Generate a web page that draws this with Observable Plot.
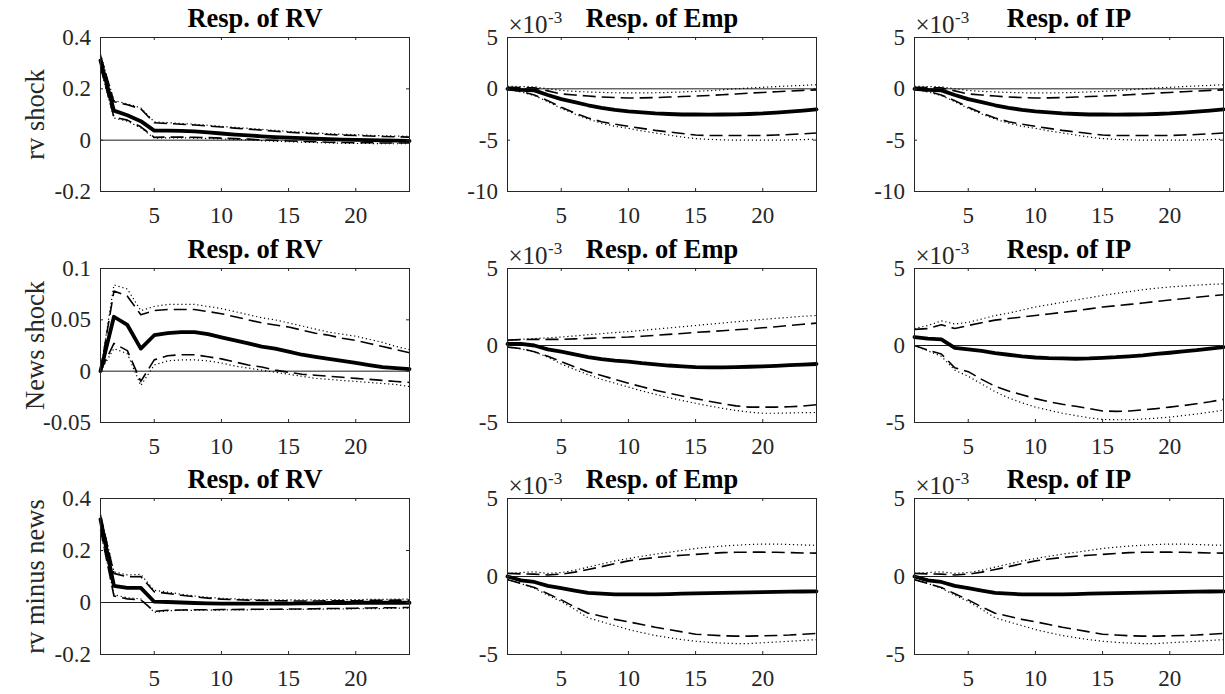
<!DOCTYPE html>
<html><head><meta charset="utf-8">
<script src="https://cdn.jsdelivr.net/npm/d3@7"></script>
<script src="https://cdn.jsdelivr.net/npm/@observablehq/plot@0.6"></script>
<style>
body{margin:0;background:#fff;}
#chart{position:relative;width:1225px;height:694px;overflow:hidden;background:#fff;}
#chart svg{position:absolute;overflow:visible;font-family:'Liberation Serif','Times New Roman',Times,serif;}
#chart svg text{font-family:'Liberation Serif','Times New Roman',Times,serif;}
</style></head><body><div id="chart"></div>
<script>
// ---- data ----
const horizon = [1,2,3,4,5,6,7,8,9,10,11,12,13,14,15,16,17,18,19,20,21,22,23,24];
const xTicks = [5,10,15,20];
const rowLabels = ["rv shock","News shock","rv minus news"];
const colTitles = ["Resp. of RV","Resp. of Emp","Resp. of IP"];
const yTicksRow1RV = [-0.2,0,0.2,0.4];
const yTicksRow2RV = [-0.05,0,0.05,0.1];
const yTicksRow3RV = [-0.2,0,0.2,0.4];
const yTicksRow1EmpIP = [-10,-5,0,5];   // ×10^-3
const yTicksRow23EmpIP = [-5,0,5];      // ×10^-3
const expBase = "×10", expPower = "-3";

// rv shock -> RV
const rvRV_med  = [0.31,0.115,0.097,0.074,0.037,0.037,0.036,0.034,0.030,0.026,0.022,0.019,0.015,0.012,0.010,0.008,0.006,0.004,0.002,0.001,0.000,-0.001,-0.002,-0.003];
const rvRV_up68 = [0.33,0.150,0.138,0.122,0.068,0.065,0.062,0.059,0.055,0.051,0.047,0.043,0.039,0.035,0.031,0.028,0.025,0.022,0.020,0.018,0.016,0.014,0.013,0.012];
const rvRV_up90 = [0.335,0.154,0.142,0.126,0.071,0.068,0.065,0.062,0.058,0.054,0.050,0.046,0.042,0.038,0.034,0.031,0.028,0.025,0.023,0.021,0.019,0.017,0.016,0.015];
const rvRV_lo68 = [0.285,0.090,0.078,0.052,0.011,0.012,0.012,0.011,0.010,0.008,0.006,0.004,0.001,-0.001,-0.003,-0.005,-0.006,-0.008,-0.009,-0.010,-0.010,-0.011,-0.011,-0.011];
const rvRV_lo90 = [0.28,0.086,0.074,0.048,0.008,0.009,0.009,0.008,0.007,0.005,0.003,0.001,-0.002,-0.004,-0.006,-0.008,-0.009,-0.011,-0.012,-0.013,-0.013,-0.014,-0.014,-0.014];

// rv shock -> Emp (×10^-3)
const rvEmp_med  = [0,-0.1,-0.15,-0.6,-1.0,-1.3,-1.6,-1.85,-2.05,-2.2,-2.3,-2.4,-2.45,-2.5,-2.5,-2.52,-2.5,-2.48,-2.45,-2.4,-2.32,-2.23,-2.12,-2.0];
const rvEmp_up68 = [0.15,0.12,0.1,-0.2,-0.5,-0.6,-0.7,-0.8,-0.85,-0.9,-0.88,-0.85,-0.8,-0.75,-0.7,-0.65,-0.58,-0.5,-0.42,-0.35,-0.28,-0.22,-0.15,-0.1];
const rvEmp_up90 = [0.25,0.22,0.2,0.0,-0.15,-0.25,-0.3,-0.35,-0.38,-0.4,-0.4,-0.38,-0.35,-0.3,-0.25,-0.18,-0.1,0.0,0.08,0.15,0.22,0.28,0.34,0.4];
const rvEmp_lo68 = [0,-0.25,-0.6,-1.15,-1.8,-2.35,-2.85,-3.2,-3.45,-3.65,-3.85,-4.05,-4.2,-4.35,-4.5,-4.55,-4.55,-4.55,-4.55,-4.55,-4.5,-4.45,-4.38,-4.3];
const rvEmp_lo90 = [-0.05,-0.3,-0.65,-1.25,-1.9,-2.45,-2.95,-3.35,-3.65,-3.85,-4.1,-4.3,-4.5,-4.7,-4.85,-4.92,-4.97,-5.0,-5.0,-5.0,-5.0,-4.98,-4.95,-4.9];

// rv shock -> IP (×10^-3)
const rvIP_med  = [0,-0.1,-0.15,-0.6,-1.0,-1.3,-1.6,-1.85,-2.05,-2.2,-2.3,-2.4,-2.45,-2.5,-2.5,-2.52,-2.5,-2.48,-2.45,-2.4,-2.32,-2.23,-2.12,-2.0];
const rvIP_up68 = [0.15,0.12,0.1,-0.2,-0.5,-0.6,-0.7,-0.8,-0.85,-0.9,-0.88,-0.85,-0.8,-0.75,-0.7,-0.65,-0.58,-0.5,-0.42,-0.35,-0.28,-0.22,-0.15,-0.1];
const rvIP_up90 = [0.25,0.22,0.2,0.0,-0.15,-0.25,-0.3,-0.35,-0.38,-0.4,-0.4,-0.38,-0.35,-0.3,-0.25,-0.18,-0.1,0.0,0.08,0.15,0.22,0.28,0.34,0.4];
const rvIP_lo68 = [0,-0.25,-0.6,-1.15,-1.8,-2.35,-2.85,-3.2,-3.45,-3.65,-3.85,-4.05,-4.2,-4.35,-4.5,-4.55,-4.55,-4.55,-4.55,-4.55,-4.5,-4.45,-4.38,-4.3];
const rvIP_lo90 = [-0.05,-0.3,-0.65,-1.25,-1.9,-2.45,-2.95,-3.35,-3.65,-3.85,-4.1,-4.3,-4.5,-4.7,-4.85,-4.92,-4.97,-5.0,-5.0,-5.0,-5.0,-4.98,-4.95,-4.9];

// News shock -> RV
const newsRV_med  = [0,0.053,0.045,0.022,0.035,0.037,0.038,0.038,0.036,0.033,0.030,0.027,0.024,0.022,0.019,0.016,0.014,0.012,0.010,0.008,0.006,0.004,0.003,0.002];
const newsRV_up68 = [0,0.078,0.073,0.055,0.059,0.060,0.060,0.060,0.058,0.056,0.053,0.050,0.047,0.045,0.043,0.040,0.037,0.035,0.032,0.030,0.027,0.024,0.021,0.018];
const newsRV_up90 = [0,0.084,0.080,0.059,0.063,0.065,0.065,0.065,0.063,0.061,0.058,0.055,0.052,0.050,0.047,0.044,0.041,0.038,0.036,0.034,0.031,0.028,0.024,0.021];
const newsRV_lo68 = [0,0.027,0.020,-0.010,0.011,0.015,0.016,0.016,0.014,0.012,0.009,0.006,0.004,0.001,-0.001,-0.003,-0.004,-0.005,-0.006,-0.007,-0.008,-0.009,-0.010,-0.011];
const newsRV_lo90 = [0,0.022,0.017,-0.014,0.006,0.010,0.011,0.011,0.010,0.008,0.005,0.003,0.001,-0.001,-0.003,-0.005,-0.007,-0.008,-0.009,-0.010,-0.011,-0.012,-0.013,-0.015];

// News shock -> Emp (×10^-3)
const newsEmp_med  = [0.1,0.1,0.0,-0.25,-0.4,-0.58,-0.75,-0.88,-0.98,-1.05,-1.15,-1.22,-1.3,-1.35,-1.4,-1.42,-1.42,-1.4,-1.38,-1.35,-1.32,-1.28,-1.24,-1.2];
const newsEmp_up68 = [0.35,0.38,0.4,0.4,0.4,0.43,0.46,0.5,0.52,0.55,0.6,0.66,0.72,0.78,0.85,0.9,0.96,1.02,1.08,1.15,1.22,1.3,1.38,1.45];
const newsEmp_up90 = [0.3,0.4,0.45,0.5,0.55,0.62,0.7,0.77,0.84,0.9,0.98,1.06,1.14,1.22,1.3,1.38,1.46,1.54,1.62,1.7,1.76,1.83,1.9,1.95];
const newsEmp_lo68 = [-0.1,-0.2,-0.4,-0.7,-1.05,-1.38,-1.7,-1.95,-2.2,-2.45,-2.68,-2.9,-3.1,-3.28,-3.45,-3.62,-3.78,-3.92,-4.0,-4.0,-4.0,-3.98,-3.93,-3.85];
const newsEmp_lo90 = [-0.1,-0.22,-0.42,-0.75,-1.2,-1.55,-1.9,-2.2,-2.45,-2.7,-2.95,-3.17,-3.38,-3.57,-3.75,-3.92,-4.08,-4.22,-4.32,-4.4,-4.4,-4.38,-4.36,-4.35];

// News shock -> IP (×10^-3)
const newsIP_med  = [0.55,0.45,0.4,-0.15,-0.25,-0.35,-0.5,-0.6,-0.7,-0.78,-0.82,-0.84,-0.86,-0.84,-0.8,-0.76,-0.7,-0.64,-0.55,-0.47,-0.38,-0.3,-0.2,-0.1];
const newsIP_up68 = [1.05,1.1,1.35,1.1,1.3,1.48,1.65,1.75,1.85,1.95,2.05,2.15,2.25,2.38,2.5,2.58,2.67,2.76,2.86,2.95,3.04,3.13,3.22,3.3];
const newsIP_up90 = [1.1,1.3,1.6,1.4,1.5,1.72,1.95,2.1,2.3,2.5,2.65,2.8,2.95,3.1,3.25,3.38,3.5,3.62,3.72,3.8,3.86,3.92,3.97,4.0];
const newsIP_lo68 = [0,-0.3,-0.55,-1.45,-1.7,-2.2,-2.65,-2.95,-3.2,-3.45,-3.65,-3.82,-3.95,-4.1,-4.25,-4.28,-4.25,-4.18,-4.1,-4.0,-3.9,-3.78,-3.65,-3.5];
const newsIP_lo90 = [0,-0.35,-0.7,-1.6,-2.0,-2.5,-3.0,-3.4,-3.72,-4.0,-4.2,-4.4,-4.55,-4.7,-4.8,-4.82,-4.82,-4.77,-4.72,-4.65,-4.55,-4.45,-4.33,-4.2];

// rv minus news -> RV
const rvmnRV_med  = [0.32,0.064,0.056,0.056,0.003,0.002,0.000,-0.002,-0.003,-0.004,-0.004,-0.004,-0.004,-0.004,-0.004,-0.003,-0.003,-0.002,-0.002,-0.001,-0.001,-0.001,-0.001,-0.001];
const rvmnRV_up68 = [0.335,0.112,0.099,0.100,0.041,0.035,0.028,0.022,0.017,0.013,0.011,0.009,0.008,0.007,0.006,0.006,0.006,0.007,0.007,0.007,0.008,0.008,0.009,0.009];
const rvmnRV_up90 = [0.34,0.118,0.106,0.108,0.047,0.040,0.032,0.025,0.020,0.016,0.014,0.012,0.011,0.010,0.010,0.010,0.010,0.011,0.011,0.011,0.012,0.012,0.013,0.013];
const rvmnRV_lo68 = [0.28,0.025,0.014,0.010,-0.034,-0.030,-0.029,-0.028,-0.028,-0.027,-0.027,-0.026,-0.026,-0.026,-0.025,-0.025,-0.024,-0.023,-0.023,-0.022,-0.021,-0.020,-0.020,-0.019];
const rvmnRV_lo90 = [0.275,0.030,0.018,0.014,-0.038,-0.032,-0.030,-0.030,-0.029,-0.029,-0.028,-0.028,-0.027,-0.027,-0.027,-0.026,-0.026,-0.025,-0.025,-0.024,-0.024,-0.023,-0.022,-0.022];

// rv minus news -> Emp (×10^-3)
const rvmnEmp_med  = [0,-0.25,-0.35,-0.6,-0.75,-0.9,-1.05,-1.1,-1.15,-1.15,-1.15,-1.15,-1.13,-1.1,-1.08,-1.06,-1.05,-1.03,-1.02,-1.0,-0.99,-0.97,-0.96,-0.95];
const rvmnEmp_up68 = [0.2,0.17,0.15,0.1,0.15,0.28,0.45,0.63,0.82,1.0,1.12,1.22,1.3,1.36,1.42,1.48,1.53,1.55,1.56,1.56,1.55,1.53,1.51,1.5];
const rvmnEmp_up90 = [0.2,0.25,0.3,0.2,0.25,0.4,0.6,0.8,1.0,1.15,1.3,1.43,1.55,1.67,1.8,1.88,1.95,2.0,2.05,2.08,2.08,2.05,2.02,2.0];
const rvmnEmp_lo68 = [-0.2,-0.45,-0.7,-1.1,-1.5,-1.95,-2.35,-2.55,-2.75,-2.9,-3.08,-3.25,-3.4,-3.55,-3.7,-3.75,-3.8,-3.82,-3.82,-3.8,-3.78,-3.75,-3.7,-3.65];
const rvmnEmp_lo90 = [-0.2,-0.45,-0.75,-1.2,-1.6,-2.1,-2.65,-2.9,-3.15,-3.4,-3.6,-3.78,-3.92,-4.05,-4.15,-4.22,-4.27,-4.3,-4.3,-4.25,-4.2,-4.15,-4.1,-4.05];

// rv minus news -> IP (×10^-3)
const rvmnIP_med  = [0,-0.25,-0.35,-0.6,-0.75,-0.9,-1.05,-1.1,-1.15,-1.15,-1.15,-1.15,-1.13,-1.1,-1.08,-1.06,-1.05,-1.03,-1.02,-1.0,-0.99,-0.97,-0.96,-0.95];
const rvmnIP_up68 = [0.2,0.17,0.15,0.1,0.15,0.28,0.45,0.63,0.82,1.0,1.12,1.22,1.3,1.36,1.42,1.48,1.53,1.55,1.56,1.56,1.55,1.53,1.51,1.5];
const rvmnIP_up90 = [0.2,0.25,0.3,0.2,0.25,0.4,0.6,0.8,1.0,1.15,1.3,1.43,1.55,1.67,1.8,1.88,1.95,2.0,2.05,2.08,2.08,2.05,2.02,2.0];
const rvmnIP_lo68 = [-0.2,-0.45,-0.7,-1.1,-1.5,-1.95,-2.35,-2.55,-2.75,-2.9,-3.08,-3.25,-3.4,-3.55,-3.7,-3.75,-3.8,-3.82,-3.82,-3.8,-3.78,-3.75,-3.7,-3.65];
const rvmnIP_lo90 = [-0.2,-0.45,-0.75,-1.2,-1.6,-2.1,-2.65,-2.9,-3.15,-3.4,-3.6,-3.78,-3.92,-4.05,-4.15,-4.22,-4.27,-4.3,-4.3,-4.25,-4.2,-4.15,-4.1,-4.05];

// ---- layout ----
const panels = [
  [{s:[rvRV_med,rvRV_up68,rvRV_up90,rvRV_lo68,rvRV_lo90], t:yTicksRow1RV},
   {s:[rvEmp_med,rvEmp_up68,rvEmp_up90,rvEmp_lo68,rvEmp_lo90], t:yTicksRow1EmpIP, exp:true},
   {s:[rvIP_med,rvIP_up68,rvIP_up90,rvIP_lo68,rvIP_lo90], t:yTicksRow1EmpIP, exp:true}],
  [{s:[newsRV_med,newsRV_up68,newsRV_up90,newsRV_lo68,newsRV_lo90], t:yTicksRow2RV},
   {s:[newsEmp_med,newsEmp_up68,newsEmp_up90,newsEmp_lo68,newsEmp_lo90], t:yTicksRow23EmpIP, exp:true},
   {s:[newsIP_med,newsIP_up68,newsIP_up90,newsIP_lo68,newsIP_lo90], t:yTicksRow23EmpIP, exp:true}],
  [{s:[rvmnRV_med,rvmnRV_up68,rvmnRV_up90,rvmnRV_lo68,rvmnRV_lo90], t:yTicksRow3RV},
   {s:[rvmnEmp_med,rvmnEmp_up68,rvmnEmp_up90,rvmnEmp_lo68,rvmnEmp_lo90], t:yTicksRow23EmpIP, exp:true},
   {s:[rvmnIP_med,rvmnIP_up68,rvmnIP_up90,rvmnIP_lo68,rvmnIP_lo90], t:yTicksRow23EmpIP, exp:true}]
];

const colLefts = [100, 507, 914];
const rowTops = [37, 268, 498];
const rowHeights = [154, 154, 156];
const frameW = 309;
const mL = 100, mR = 2, mT = 37, mB = 40;
const tl = 3;
const axisColor = "#262626";
const font = "'Liberation Serif','Times New Roman',Times,serif";
const chart = document.getElementById("chart");

const lineOf = (vals, opts) => Plot.line(vals, {x: (d, i) => horizon[i], y: d => d, stroke: "black", ...opts});

for (let r = 0; r < 3; r++) {
  for (let c = 0; c < 3; c++) {
    const p = panels[r][c];
    const frameH = rowHeights[r];
    const [med, up68, up90, lo68, lo90] = p.s;
    const marks = [
      Plot.ruleY([0], {stroke: "black", strokeWidth: 0.9}),
      lineOf(up90, {strokeWidth: 1.2, strokeDasharray: "1.2,2.8", strokeLinecap: "butt"}),
      lineOf(lo90, {strokeWidth: 1.2, strokeDasharray: "1.2,2.8", strokeLinecap: "butt"}),
      lineOf(up68, {strokeWidth: 1.6, strokeDasharray: "13,6", strokeLinecap: "butt"}),
      lineOf(lo68, {strokeWidth: 1.6, strokeDasharray: "13,6", strokeLinecap: "butt"}),
      lineOf(med, {strokeWidth: 3.8}),
      Plot.frame({stroke: axisColor, strokeWidth: 1}),
      Plot.tickX(xTicks, {x: d => d, insetTop: frameH - tl, stroke: axisColor}),
      Plot.tickX(xTicks, {x: d => d, insetBottom: frameH - tl, stroke: axisColor}),
      Plot.tickY(p.t, {y: d => d, insetRight: frameW - tl, stroke: axisColor}),
      Plot.tickY(p.t, {y: d => d, insetLeft: frameW - tl, stroke: axisColor}),
      Plot.axisX({ticks: xTicks, tickSize: 0, tickPadding: 15, fontSize: 23, fontFamily: font, fontVariant: "normal", label: null, tickFormat: d => String(d), fill: axisColor}),
      Plot.axisY({ticks: p.t, tickSize: 0, tickPadding: 9.5, fontSize: 23, fontFamily: font, fontVariant: "normal", label: null, tickFormat: d => String(d), fill: axisColor}),
      Plot.text([colTitles[c]], {text: d => d, frameAnchor: "top", dy: -10.6, lineAnchor: "bottom", fontWeight: "bold", fontSize: 26.5, fontFamily: font, fill: "black"})
    ];
    if (c === 0) {
      marks.push(Plot.text([rowLabels[r]], {text: d => d, frameAnchor: "left", rotate: -90, dx: -57, lineAnchor: "bottom", textAnchor: "middle", fontSize: 26.5, fontFamily: font, fill: axisColor}));
    }
    if (p.exp) {
      marks.push(Plot.text([expBase], {text: d => d, frameAnchor: "top-left", textAnchor: "start", lineAnchor: "bottom", dx: 1, dy: -5, fontSize: 25, fontFamily: font, fill: axisColor}));
      marks.push(Plot.text([expPower], {text: d => d, frameAnchor: "top-left", textAnchor: "start", lineAnchor: "bottom", dx: 40.5, dy: -15, fontSize: 17, fontFamily: font, fill: axisColor}));
    }
    const svg = Plot.plot({
      width: mL + frameW + mR,
      height: mT + frameH + mB,
      marginLeft: mL, marginRight: mR, marginTop: mT, marginBottom: mB,
      style: {fontFamily: font, fontSize: "23px", color: axisColor, background: "transparent", overflow: "visible"},
      x: {domain: [1, 24]},
      y: {domain: [Math.min(...p.t), Math.max(...p.t)]},
      marks
    });
    svg.style.left = (colLefts[c] - mL) + "px";
    svg.style.top = (rowTops[r] - mT) + "px";
    chart.appendChild(svg);
  }
}
</script>
</body></html>
